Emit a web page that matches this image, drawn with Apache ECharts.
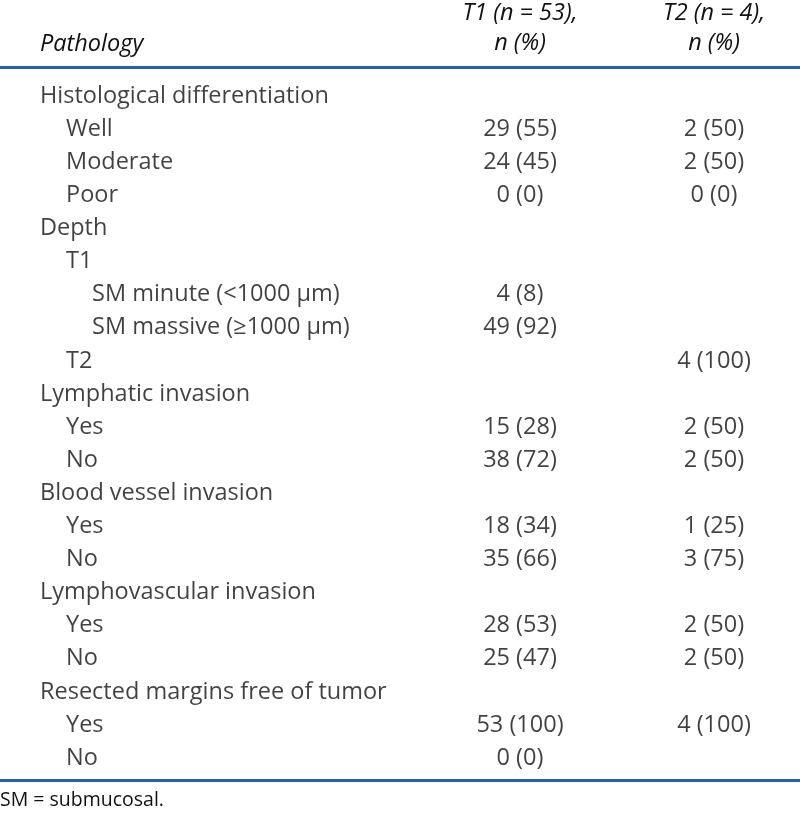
<!DOCTYPE html>
<html><head><meta charset="utf-8">
<script src="https://cdn.jsdelivr.net/npm/echarts@6/dist/echarts.min.js"></script>
<style>html,body{margin:0;padding:0;background:#fff}#c{width:800px;height:813px}</style>
</head><body><div id="c"></div>
<script>
const headerLabels = ['Pathology', 'T1 (n = 53),\nn (%)', 'T2 (n = 4),\nn (%)'];
const rowLabels = ['Histological differentiation','Well','Moderate','Poor','Depth','T1','SM minute (<1000 \u00b5m)','SM massive (\u22651000 \u00b5m)','T2','Lymphatic invasion','Yes','No','Blood vessel invasion','Yes','No','Lymphovascular invasion','Yes','No','Resected margins free of tumor','Yes','No'];
const rowLevels = [0,1,1,1,0,1,2,2,1,0,1,1,0,1,1,0,1,1,0,1,1];
const t1Values = ['','29 (55)','24 (45)','0 (0)','','','4 (8)','49 (92)','','','15 (28)','38 (72)','','18 (34)','35 (66)','','28 (53)','25 (47)','','53 (100)','0 (0)'];
const t2Values = ['','2 (50)','2 (50)','0 (0)','','','','','4 (100)','','2 (50)','2 (50)','','1 (25)','3 (75)','','2 (50)','2 (50)','','4 (100)',''];
const footnote = 'SM = submucosal.';

const FONT = '"Open Sans"';
const FS = 23.5;
const FS_NOTE = 19.5;
const TXT = '#111111';
const BLUE = '#2461a8';
const cats = rowLabels.map((_, i) => 'r' + i);
const indentX = [40, 66, 92];
const colX = [520, 714];

const chart = echarts.init(document.getElementById('c'), null, {renderer: 'canvas'});

function textSeries(values, xFn, align) {
  const data = [];
  values.forEach((v, i) => { if (v !== '') data.push({value: [xFn(i), cats[i]], name: v}); });
  return {
    type: 'scatter', symbolSize: 1, itemStyle: {color: 'rgba(0,0,0,0)'}, silent: true,
    data: data,
    label: {show: true, position: 'inside', align: align, verticalAlign: 'middle',
      formatter: p => p.name, color: TXT, fontFamily: FONT, fontSize: FS},
    emphasis: {disabled: true}
  };
}

chart.setOption({
  animation: false,
  grid: {left: 0, right: 0, top: 79.5, height: 695.1},
  xAxis: {type: 'value', min: 0, max: 800, show: false},
  yAxis: {type: 'category', data: cats, inverse: true, show: false},
  series: [
    textSeries(rowLabels, i => indentX[rowLevels[i]], 'left'),
    textSeries(t1Values, () => colX[0], 'center'),
    textSeries(t2Values, () => colX[1], 'center')
  ],
  graphic: [
    {type: 'text', x: 40, y: 44, style: {text: headerLabels[0], font: 'italic ' + FS + 'px ' + FONT, fill: TXT, verticalAlign: 'middle'}},
    {type: 'text', x: colX[0], y: 28, style: {text: headerLabels[1], font: 'italic ' + FS + 'px ' + FONT, fill: TXT, align: 'center', verticalAlign: 'middle', lineHeight: 30}},
    {type: 'text', x: colX[1], y: 28, style: {text: headerLabels[2], font: 'italic ' + FS + 'px ' + FONT, fill: TXT, align: 'center', verticalAlign: 'middle', lineHeight: 30}},
    {type: 'rect', shape: {x: 0, y: 66, width: 800, height: 3}, style: {fill: BLUE}},
    {type: 'rect', shape: {x: 0, y: 779, width: 800, height: 3}, style: {fill: BLUE}},
    {type: 'text', x: 0, y: 800, style: {text: footnote, font: FS_NOTE + 'px ' + FONT, fill: TXT, verticalAlign: 'middle'}}
  ]
});
</script></body></html>
